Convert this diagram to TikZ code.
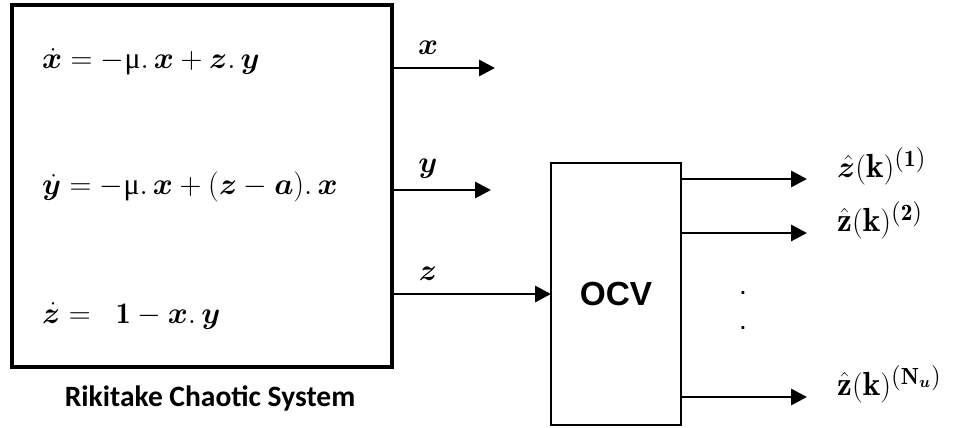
\documentclass[tikz,border=0pt]{standalone}
\usepackage{amsmath,bm}
\usepackage{fontspec}
\setsansfont{Carlito}
\newfontfamily\ocvfont{Liberation Sans}
\newfontfamily\greekfont{Liberation Serif}
\usetikzlibrary{arrows.meta,positioning,calc}
\newcommand{\upmu}{\text{\greekfont μ}}

\begin{document}
\begin{tikzpicture}[x=0.02cm,y=-0.02cm,
  sysbox/.style={draw, line width=1.8pt, inner sep=0pt, outer sep=0pt},
  ocvbox/.style={draw, line width=0.6pt, inner sep=0pt, outer sep=0pt},
  sig/.style={line width=1.7pt, -{Triangle[length=9pt,width=9pt]}},
  eqn/.style={anchor=west, font=\fontsize{17}{19}\selectfont},
  lab/.style={font=\fontsize{17}{19}\selectfont},
  outlab/.style={anchor=west, font=\fontsize{19}{21}\selectfont}]
  \useasboundingbox (0,0) rectangle (959,428);
  % blocks
  \node (sys) [sysbox, minimum width=7.6cm, minimum height=7.24cm] at (202,186) {};
  \node (ocv) [ocvbox, minimum width=2.6cm, minimum height=5.24cm] at (616,294)
        {\ocvfont\bfseries\fontsize{19}{21}\selectfont OCV};
  \node (cap) [font=\sffamily\bfseries\fontsize{16.8}{18}\selectfont] at (210,398)
        {Rikitake Chaotic System};
  % equations
  \node (eqx) [eqn] at (36,62)  {$\dot{\bm x} = -\upmu.\,\bm x + \bm z.\,\bm y$};
  \node (eqy) [eqn] at (36,187) {$\dot{\bm y} = -\upmu.\,\bm x + (\bm z - \bm a).\,\bm x$};
  \node (eqz) [eqn] at (36,316) {$\dot{\bm z} = \;\;\mathbf{1} - \bm x.\,\bm y$};
  % system outputs
  \coordinate (xend) at (495,68);
  \coordinate (yend) at (491,190);
  \draw[sig] (xend -| sys.east) -- (xend);
  \draw[sig] (yend -| sys.east) -- (yend);
  \draw[sig] (ocv.west -| sys.east) -- (ocv.west);
  \node (lx) [lab] at (428,48)  {$\bm x$};
  \node (ly) [lab] at (428,169) {$\bm y$};
  \node (lz) [lab] at (428,274) {$\bm z$};
  % estimator outputs
  \coordinate (o1) at (807,179);
  \coordinate (o2) at (807,233);
  \coordinate (o3) at (807,397);
  \foreach \o in {o1,o2,o3}
    \draw[sig] (\o -| ocv.east) -- (\o);
  \node (z1) [outlab] at ($(o1)+(24,-13)$) {$\hat{\bm z}(\mathbf{k})^{(\mathbf{1})}$};
  \node (z2) [outlab] at ($(o2)+(24,-13)$) {$\hat{\mathbf z}(\mathbf{k})^{(\mathbf{2})}$};
  \node (z3) [outlab] at ($(o3)+(24,-13)$) {$\hat{\mathbf z}(\mathbf{k})^{(\mathbf{N}_{\bm u})}$};
  \node (d1) [font=\ocvfont\fontsize{16}{18}\selectfont] at (743,293) {.};
  \node (d2) [font=\ocvfont\fontsize{16}{18}\selectfont] at (743,328) {.};
\end{tikzpicture}
\end{document}
